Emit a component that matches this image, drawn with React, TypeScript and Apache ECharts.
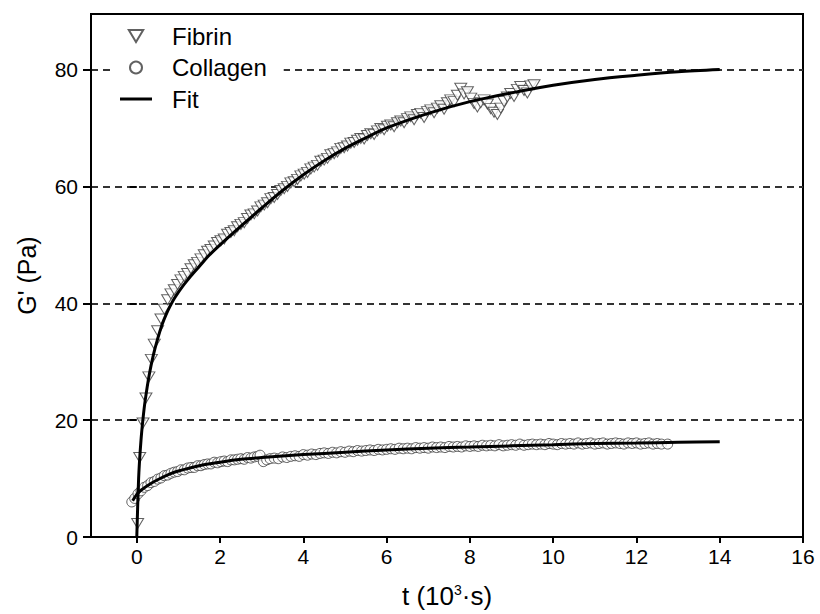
import React, { useEffect, useRef } from "react";
import * as echarts from "echarts";

const FONT = '"Liberation Sans", Arial, sans-serif';

const xTicks = [0, 2, 4, 6, 8, 10, 12, 14, 16];
const yTicks = [0, 20, 40, 60, 80];

const fibrinData: [number, number][] = [
  [0.02, 2.3], [0.07, 13.6], [0.15, 19.5], [0.22, 23.8], [0.29, 27.4], [0.35, 30.4], [0.42, 33.0],
  [0.5, 35.3], [0.58, 37.3], [0.66, 39.0], [0.74, 40.6], [0.82, 41.6], [0.9, 42.3], [0.98, 43.2],
  [1.06, 44.0], [1.14, 44.6], [1.22, 45.1], [1.3, 45.9], [1.38, 46.6], [1.46, 47.0], [1.54, 47.6],
  [1.62, 48.3], [1.7, 48.9], [1.78, 49.2], [1.86, 49.8], [1.94, 50.4], [2.02, 50.7], [2.1, 51.0],
  [2.18, 51.8], [2.26, 52.1], [2.34, 52.4], [2.42, 53.1], [2.5, 53.5], [2.58, 53.8], [2.66, 54.5],
  [2.74, 55.1], [2.82, 55.3], [2.9, 55.8], [2.98, 56.5], [3.06, 56.8], [3.14, 57.2], [3.22, 57.9],
  [3.3, 58.1], [3.38, 58.6], [3.46, 59.3], [3.54, 59.6], [3.62, 60.0], [3.7, 60.6], [3.78, 60.8],
  [3.86, 61.2], [3.94, 61.8], [4.02, 62.1], [4.1, 62.4], [4.18, 63.0], [4.26, 63.3], [4.34, 63.6],
  [4.42, 64.3], [4.5, 64.5], [4.58, 64.8], [4.66, 65.4], [4.74, 65.6], [4.82, 65.9], [4.9, 66.5],
  [4.98, 66.6], [5.06, 66.9], [5.14, 67.4], [5.22, 67.5], [5.3, 67.9], [5.38, 68.2], [5.46, 68.1],
  [5.54, 68.7], [5.62, 69.0], [5.7, 68.9], [5.78, 69.5], [5.86, 69.9], [5.94, 69.7], [6.02, 70.3],
  [6.1, 70.5], [6.18, 70.2], [6.26, 70.9], [6.34, 71.2], [6.42, 70.9], [6.5, 71.6], [6.58, 71.9],
  [6.66, 71.4], [6.74, 72.3], [6.82, 72.5], [6.9, 71.8], [6.98, 72.8], [7.06, 73.1], [7.14, 72.6],
  [7.22, 73.4], [7.3, 73.8], [7.38, 73.2], [7.46, 74.3], [7.54, 74.8], [7.62, 74.5], [7.7, 75.6],
  [7.78, 76.8], [7.86, 75.8], [7.94, 76.2], [8.02, 75.1], [8.1, 74.2], [8.18, 73.6], [8.26, 74.3],
  [8.34, 74.8], [8.42, 74.1], [8.5, 73.3], [8.58, 72.7], [8.66, 72.3], [8.74, 73.4], [8.82, 74.5],
  [8.9, 75.3], [8.98, 75.9], [9.06, 75.4], [9.14, 76.6], [9.22, 77.1], [9.3, 76.4], [9.38, 76.0],
  [9.46, 77.2], [9.54, 77.4],
];

const collagenData: [number, number][] = [
  [-0.12, 6.0], [-0.05, 6.6], [0.03, 7.4], [0.1, 7.9], [0.18, 8.5], [0.26, 8.8], [0.34, 9.3],
  [0.42, 9.5], [0.5, 9.9], [0.58, 10.1], [0.66, 10.5], [0.74, 10.6], [0.82, 10.9], [0.9, 11.1],
  [0.98, 11.2], [1.06, 11.5], [1.14, 11.5], [1.22, 11.8], [1.3, 11.9], [1.38, 11.9], [1.46, 12.2],
  [1.54, 12.2], [1.62, 12.4], [1.7, 12.5], [1.78, 12.5], [1.86, 12.8], [1.94, 12.7], [2.02, 12.9],
  [2.1, 13.0], [2.18, 12.9], [2.26, 13.2], [2.34, 13.2], [2.42, 13.3], [2.5, 13.4], [2.58, 13.3],
  [2.66, 13.6], [2.74, 13.5], [2.82, 13.7], [2.9, 13.8], [2.96, 14.0], [3.04, 12.9], [3.12, 13.2],
  [3.2, 13.4], [3.3, 13.5], [3.4, 13.4], [3.5, 13.7], [3.6, 13.6], [3.7, 13.8], [3.8, 13.9],
  [3.9, 13.8], [4.0, 14.1], [4.1, 14.0], [4.2, 14.2], [4.3, 14.1], [4.4, 14.3], [4.5, 14.4],
  [4.6, 14.3], [4.7, 14.5], [4.8, 14.4], [4.9, 14.6], [5.0, 14.5], [5.1, 14.7], [5.2, 14.6],
  [5.3, 14.8], [5.4, 14.7], [5.5, 14.8], [5.6, 14.9], [5.7, 14.8], [5.8, 15.0], [5.9, 14.9],
  [6.0, 15.0], [6.1, 15.1], [6.2, 15.0], [6.3, 15.2], [6.4, 15.1], [6.5, 15.2], [6.6, 15.1],
  [6.7, 15.3], [6.8, 15.2], [6.9, 15.3], [7.0, 15.2], [7.1, 15.4], [7.2, 15.3], [7.3, 15.4],
  [7.4, 15.3], [7.5, 15.5], [7.6, 15.4], [7.7, 15.5], [7.8, 15.4], [7.9, 15.6], [8.0, 15.5],
  [8.1, 15.6], [8.2, 15.5], [8.3, 15.7], [8.4, 15.6], [8.5, 15.7], [8.6, 15.6], [8.7, 15.8],
  [8.8, 15.6], [8.9, 15.7], [9.0, 15.8], [9.1, 15.7], [9.2, 15.9], [9.3, 15.7], [9.4, 15.8],
  [9.5, 15.9], [9.6, 15.8], [9.7, 15.9], [9.8, 15.8], [9.9, 16.0], [10.0, 15.9], [10.1, 15.8],
  [10.2, 16.0], [10.3, 15.9], [10.4, 16.0], [10.5, 15.9], [10.6, 16.1], [10.7, 15.9], [10.8, 16.0],
  [10.9, 16.1], [11.0, 15.9], [11.1, 16.0], [11.2, 16.1], [11.3, 15.9], [11.4, 16.0], [11.5, 16.1],
  [11.6, 16.0], [11.7, 15.9], [11.8, 16.1], [11.9, 16.0], [12.0, 16.1], [12.1, 15.9], [12.2, 16.0],
  [12.3, 16.1], [12.4, 15.9], [12.5, 16.0], [12.6, 15.9], [12.75, 15.9],
];

const fibrinFit: [number, number][] = [
  [0, 0], [0.02, 5], [0.05, 11], [0.1, 16.5], [0.15, 20.3], [0.2, 23.3], [0.3, 27.8], [0.4, 31.2],
  [0.5, 33.9], [0.6, 36.2], [0.7, 38.0], [0.8, 39.5], [0.9, 40.8], [1.0, 41.9], [1.1, 42.9],
  [1.2, 43.8], [1.35, 45.1], [1.5, 46.3], [1.75, 48.3], [2.0, 50.0], [2.5, 53.2], [3.0, 56.3],
  [3.5, 59.3], [4.0, 62], [4.5, 64.4], [5.0, 66.5], [5.5, 68.3], [6.0, 70], [7.0, 72.5],
  [8.0, 74.5], [9.0, 76], [10.0, 77.3], [11.0, 78.3], [12.0, 79], [13.0, 79.6], [14.0, 80],
];

const collagenFit: [number, number][] = [
  [-0.1, 6.2], [0, 7.3], [0.1, 8.0], [0.3, 9.0], [0.5, 9.8], [0.8, 10.8], [1.0, 11.3], [1.5, 12.2],
  [2.0, 12.8], [2.5, 13.3], [3.0, 13.6], [4.0, 14.1], [5.0, 14.5], [6.0, 14.9], [7.0, 15.2],
  [8.0, 15.4], [9.0, 15.6], [10.0, 15.8], [11.0, 16.0], [12.0, 16.1], [13.0, 16.2], [14.0, 16.3],
];

const TRIANGLE = "path://M0,0L12,0L6,10Z";
const FIT_ICON = "path://M0,0L32,0L32,3L0,3Z";

export default function App() {
  const ref = useRef<HTMLDivElement>(null);
  useEffect(() => {
    if (!ref.current) return;
    const chart = echarts.init(ref.current, null, { renderer: "svg" });
    const markerStyle = { color: "#fff", borderColor: "#3a3a3a", borderWidth: 1 };
    const fitLine = { color: "#000", width: 3 };
    const option: any = {
      animation: false,
      backgroundColor: "#fff",
      grid: {
        left: 91, right: 17, top: 14, bottom: 72,
        show: true, borderColor: "#000", borderWidth: 2, backgroundColor: "transparent",
      },
      legend: {
        orient: "vertical",
        left: 112,
        top: 17,
        padding: [6, 17, 6, 8],
        backgroundColor: "#fff",
        itemWidth: 32,
        itemHeight: 12,
        itemGap: 5.5,
        data: [
          "Fibrin",
          "Collagen",
          { name: "Fit", icon: FIT_ICON, itemStyle: { color: "#000", borderWidth: 0 } },
        ],
        textStyle: { fontFamily: FONT, fontSize: 24, color: "#000", lineHeight: 26, padding: [0, 0, 0, 15] },
      },
      xAxis: [
        {
          type: "value", min: -1.1, max: 16,
          axisLine: { onZero: false, lineStyle: { color: "#000", width: 2 } },
          axisTick: { customValues: xTicks, length: 6, lineStyle: { color: "#000", width: 2 } },
          axisLabel: { customValues: xTicks, fontSize: 21, color: "#000", fontFamily: FONT, margin: 9 },
          splitLine: { show: false },
          name: "t (10{sup|3}·s)",
          nameLocation: "middle",
          nameGap: 46,
          nameTextStyle: {
            fontSize: 26, color: "#000", fontFamily: FONT,
            rich: { sup: { fontSize: 14, fontFamily: FONT, color: "#000", verticalAlign: "top", padding: [0, 0, 10, 0] } },
          },
        },
        {
          type: "value", min: -1.1, max: 16,
          axisLine: { show: false },
          axisTick: { customValues: xTicks, inside: true, length: 4, lineStyle: { color: "#000", width: 2 } },
          axisLabel: { show: false },
          splitLine: { show: false },
        },
      ],
      yAxis: [
        {
          type: "value", min: 0, max: 89.5, interval: 20,
          axisLine: { onZero: false, lineStyle: { color: "#000", width: 2 } },
          axisTick: { customValues: yTicks, length: 8, lineStyle: { color: "#000", width: 2 } },
          axisLabel: { customValues: yTicks, fontSize: 21, color: "#000", fontFamily: FONT, margin: 13 },
          splitLine: { show: true, lineStyle: { color: "#333", width: 2, type: [7, 5] } },
          name: "G' (Pa)",
          nameLocation: "middle",
          nameGap: 52,
          nameTextStyle: { fontSize: 25, color: "#000", fontFamily: FONT },
        },
        {
          type: "value", min: 0, max: 89.5, interval: 20,
          axisLine: { show: false },
          axisTick: { customValues: yTicks, inside: true, length: 7, lineStyle: { color: "#000", width: 2 } },
          axisLabel: { show: false },
          splitLine: { show: false },
        },
      ],
      series: [
        {
          name: "Fibrin", type: "scatter", data: fibrinData,
          symbol: TRIANGLE, symbolSize: [12, 10], itemStyle: markerStyle, z: 2,
        },
        {
          name: "Collagen", type: "scatter", data: collagenData,
          symbol: "circle", symbolSize: 10, itemStyle: markerStyle, z: 2,
        },
        {
          name: "Fit", type: "line", data: fibrinFit, smooth: 0.3, showSymbol: false,
          lineStyle: fitLine, itemStyle: { color: "#000" }, z: 3,
        },
        {
          name: "Fit", type: "line", data: collagenFit, smooth: 0.3, showSymbol: false,
          lineStyle: fitLine, itemStyle: { color: "#000" }, z: 3,
        },
      ],
    };
    chart.setOption(option);
    return () => chart.dispose();
  }, []);
  return (
    <div
      ref={ref}
      style={{ position: "fixed", left: 0, top: 0, width: 820, height: 614, background: "#fff" }}
    />
  );
}
